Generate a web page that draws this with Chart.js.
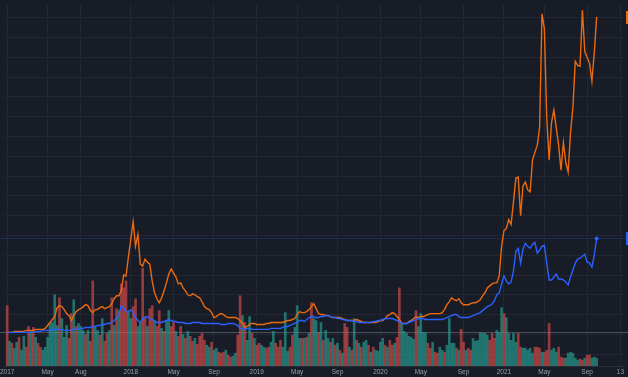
<!DOCTYPE html>
<html>
<head>
<meta charset="utf-8">
<script src="https://cdn.jsdelivr.net/npm/chart.js@4.4.1/dist/chart.umd.min.js"></script>
<style>
  html, body { margin: 0; padding: 0; background: #181c27; }
  canvas { display: block; }
</style>
</head>
<body>
<canvas id="chart" width="628" height="377"></canvas>
<script>
// weekly bars, week 0 = 2017-01-02
const weekStart = '2017-01-02';

// time axis ticks (week index) and their labels
const tickWeeks = [0, 17, 31, 52, 70, 87, 105, 122, 139, 157, 174, 192, 209, 226, 244, 258];
const tickLabels = ['2017', 'May', 'Aug', '2018', 'May', 'Sep', '2019', 'May', 'Sep', '2020', 'May', 'Sep', '2021', 'May', 'Sep', '13'];

// % change since first week (compare mode)
const orangePct = [
  0, 0, 0, 5, 5, 5, 5, 5, 10, 10,
  10, 10, 15, 15, 15, 15, 20, 35, 50, 65,
  80, 125, 135, 130, 115, 95, 85, 60, 85, 105,
  115, 120, 130, 140, 135, 110, 100, 115, 115, 125,
  130, 120, 125, 130, 145, 170, 185, 185, 210, 290,
  285, 380, 470, 560, 435, 495, 345, 335, 370, 355,
  345, 260, 200, 170, 150, 175, 210, 250, 295, 320,
  300, 280, 245, 250, 225, 210, 190, 185, 195, 190,
  180, 175, 155, 130, 120, 115, 100, 75, 80, 90,
  95, 90, 80, 75, 75, 75, 75, 70, 60, 45,
  25, 30, 40, 45, 45, 40, 40, 40, 40, 45,
  45, 50, 50, 50, 50, 50, 50, 55, 60, 60,
  65, 70, 90, 105, 100, 100, 105, 115, 130, 145,
  120, 95, 90, 90, 85, 85, 80, 75, 75, 75,
  75, 70, 65, 60, 60, 60, 60, 65, 60, 55,
  50, 50, 50, 50, 50, 50, 55, 60, 60, 70,
  85, 90, 100, 95, 80, 65, 45, 45, 45, 55,
  60, 70, 80, 75, 80, 80, 85, 90, 95, 95,
  95, 95, 95, 100, 115, 140, 155, 175, 165, 160,
  170, 150, 140, 140, 140, 145, 150, 150, 155, 165,
  185, 200, 225, 235, 245, 250, 250, 285, 435, 515,
  525, 570, 545, 660, 780, 785, 590, 740, 760, 720,
  710, 870, 910, 945, 1035, 1610, 1535, 1085, 870, 1060,
  1125, 1035, 945, 820, 960, 860, 810, 1010, 1135, 1370,
  1350, 1345, 1630, 1420, 1390, 1360, 1270, 1415, 1595
];

const bluePct = [
  0, 0, 0, 0, 0, 0, 0, 0, 0, 0,
  0, 0, 5, 5, 5, 10, 10, 10, 10, 15,
  15, 15, 15, 15, 10, 10, 10, 10, 15, 15,
  20, 20, 20, 25, 25, 25, 30, 30, 35, 35,
  40, 40, 45, 45, 50, 60, 70, 90, 135, 125,
  105, 105, 115, 100, 75, 60, 50, 70, 75, 80,
  70, 65, 60, 50, 50, 50, 55, 60, 65, 60,
  55, 55, 50, 50, 50, 45, 45, 45, 50, 50,
  50, 50, 45, 45, 45, 45, 45, 45, 45, 45,
  40, 40, 40, 45, 45, 45, 40, 35, 20, 20,
  15, 20, 20, 15, 15, 15, 15, 15, 15, 15,
  15, 20, 20, 20, 20, 20, 25, 30, 30, 35,
  40, 45, 50, 60, 60, 55, 65, 75, 80, 80,
  75, 75, 80, 80, 85, 85, 80, 75, 75, 70,
  70, 65, 65, 60, 60, 60, 55, 55, 50, 50,
  50, 50, 50, 50, 55, 55, 60, 60, 65, 70,
  70, 70, 70, 65, 60, 55, 45, 45, 45, 50,
  55, 60, 65, 70, 70, 70, 65, 65, 65, 65,
  65, 65, 65, 65, 70, 75, 80, 85, 90, 90,
  80, 75, 75, 75, 75, 80, 85, 90, 95, 100,
  110, 120, 130, 135, 145, 160, 190, 200, 245, 285,
  260, 245, 255, 310, 410, 425, 350, 420, 450, 435,
  425, 445, 455, 400, 415, 435, 440, 350, 265, 265,
  280, 295, 270, 270, 265, 255, 240, 280, 315, 350,
  370, 375, 385, 395, 355, 350, 330, 390, 475
];

// weekly volume and candle direction (g = up, r = down)
const volume = [
  61, 25, 23, 18, 24, 29, 16, 30, 19, 40,
  36, 39, 29, 23, 19, 16, 19, 29, 43, 44,
  72, 41, 69, 48, 29, 41, 28, 53, 67, 40,
  43, 40, 36, 32, 36, 25, 86, 40, 36, 31,
  48, 25, 33, 36, 69, 41, 58, 56, 83, 79,
  86, 55, 48, 60, 68, 40, 45, 99, 50, 40,
  58, 61, 45, 40, 56, 38, 35, 45, 56, 40,
  44, 35, 30, 40, 32, 28, 35, 30, 25, 28,
  22, 30, 33, 26, 21, 19, 24, 16, 18, 14,
  13, 14, 16, 11, 9, 10, 13, 31, 71, 51,
  44, 26, 50, 33, 28, 21, 23, 21, 19, 18,
  19, 24, 35, 23, 19, 26, 19, 54, 15, 19,
  31, 39, 61, 28, 28, 28, 29, 33, 64, 48,
  46, 34, 44, 26, 36, 28, 24, 28, 21, 23,
  16, 13, 43, 39, 19, 16, 48, 26, 23, 19,
  24, 26, 21, 14, 19, 16, 15, 24, 28, 21,
  19, 26, 21, 23, 29, 79, 43, 35, 33, 30,
  29, 27, 56, 40, 53, 34, 34, 23, 18, 24,
  14, 13, 19, 16, 14, 21, 48, 23, 23, 18,
  16, 37, 24, 16, 18, 16, 28, 25, 26, 34,
  33, 33, 31, 26, 33, 28, 36, 34, 59, 53,
  49, 33, 26, 33, 24, 33, 19, 18, 18, 16,
  18, 13, 19, 19, 18, 14, 14, 16, 43, 16,
  18, 14, 19, 9, 8, 8, 13, 14, 13, 8,
  6, 7, 6, 8, 11, 11, 8, 9, 8
];

const volumeDir = (
  'rgrggrggrr' + 'grgrrggggg' + 'ggrgggrrgr' + 'gggrgrrggr' + 'grrgrgrgrr' +
  'rggrrggrrg' + 'rrgrrgrggr' + 'rgrrgrgrrg' + 'rrrrggrggr' + 'rrgrrggrrg' +
  'rggrgrrggr' + 'rggrrrgggr' + 'rgggrgrgrg' + 'grgrggrgrg' + 'rgrrgrgrgr' +
  'ggrgrggggr' + 'grrgrrgggg' + 'ggrggggrrg' + 'rrggrggggr' + 'grrgrrgggg' +
  'gggrrrgggr' + 'gggggrrggg' + 'ggrrrgrrrg' + 'ggrrrggggg' + 'grrgrrggg'
).split('');

const C = {
  bg: '#181c27',
  grid: '#232735',
  text: '#9a9ea8',
  orange: '#ec6a0e',
  blue: '#2962ff',
  up: 'rgba(38, 166, 154, 0.62)',
  down: 'rgba(239, 83, 80, 0.58)'
};

const weeks = volume.map((v, i) => i);
const toPoints = arr => arr.map((v, i) => ({ x: weeks[i], y: v }));

// background, zero line, blue price line, price-scale markers at right edge
const decorations = {
  id: 'decorations',
  beforeDraw(chart) {
    const { ctx } = chart;
    ctx.save();
    ctx.fillStyle = C.bg;
    ctx.fillRect(0, 0, chart.width, chart.height);
    ctx.restore();
  },
  beforeDatasetsDraw(chart) {
    const { ctx } = chart;
    const y = chart.scales.y;
    ctx.save();
    const y0 = Math.round(y.getPixelForValue(0)) + 0.5;
    ctx.strokeStyle = 'rgba(120, 123, 134, 0.55)';
    ctx.lineWidth = 1;
    ctx.beginPath();
    ctx.moveTo(0, y0);
    ctx.lineTo(chart.width, y0);
    ctx.stroke();
    const yb = Math.round(y.getPixelForValue(bluePct[bluePct.length - 1])) + 0.5;
    ctx.strokeStyle = 'rgba(41, 98, 255, 0.22)';
    ctx.beginPath();
    ctx.moveTo(0, yb);
    ctx.lineTo(chart.width, yb);
    ctx.stroke();
    ctx.restore();
  },
  afterDraw(chart) {
    const { ctx } = chart;
    const y = chart.scales.y;
    ctx.save();
    [[orangePct, C.orange], [bluePct, C.blue]].forEach(([arr, col]) => {
      const py = y.getPixelForValue(arr[arr.length - 1]);
      ctx.fillStyle = col;
      ctx.fillRect(626, Math.round(py - 6), 3, 13);
    });
    ctx.restore();
  }
};

new Chart(document.getElementById('chart'), {
  data: {
    datasets: [
      {
        type: 'line',
        label: 'blue',
        data: toPoints(bluePct),
        yAxisID: 'y',
        borderColor: C.blue,
        borderWidth: 1.4,
        pointRadius: ctx => ctx.dataIndex === bluePct.length - 1 ? 2 : 0,
        pointBackgroundColor: C.blue,
        pointBorderWidth: 0,
        tension: 0,
        order: 0
      },
      {
        type: 'line',
        label: 'orange',
        data: toPoints(orangePct),
        yAxisID: 'y',
        borderColor: C.orange,
        borderWidth: 1.4,
        pointRadius: 0,
        tension: 0,
        order: 1
      },
      {
        type: 'bar',
        label: 'volume',
        data: toPoints(volume),
        yAxisID: 'yv',
        backgroundColor: volume.map((v, i) => volumeDir[i] === 'g' ? C.up : C.down),
        barThickness: 2,
        order: 2
      }
    ]
  },
  options: {
    responsive: false,
    devicePixelRatio: 1,
    animation: false,
    layout: { padding: { left: 0, right: 2, top: 0, bottom: 0 } },
    plugins: { legend: { display: false }, tooltip: { enabled: false } },
    scales: {
      x: {
        type: 'linear',
        offset: false,
        min: -1.333,
        max: 259.5,
        afterBuildTicks: s => { s.ticks = tickWeeks.map(v => ({ value: v })); },
        afterFit: s => { s.height = 11; s.paddingLeft = 0; s.paddingRight = 0; },
        ticks: {
          autoSkip: false,
          maxRotation: 0,
          padding: 2,
          color: C.text,
          font: { family: 'Liberation Sans', size: 6.5 },
          callback: v => tickLabels[tickWeeks.indexOf(v)]
        },
        grid: { color: C.grid, drawTicks: false, offset: false },
        border: { color: '#2a2e39' }
      },
      y: {
        position: 'right',
        min: -170,
        max: 1660,
        afterBuildTicks: s => {
          const t = [];
          for (let v = -110; v <= 1660; v += 100) t.push({ value: v });
          s.ticks = t;
        },
        afterFit: s => { s.width = 0; },
        ticks: { display: false },
        grid: { color: C.grid, drawTicks: false },
        border: { display: false }
      },
      yv: {
        display: false,
        min: 0,
        max: 366
      }
    }
  },
  plugins: [decorations]
});
</script>
</body>
</html>
